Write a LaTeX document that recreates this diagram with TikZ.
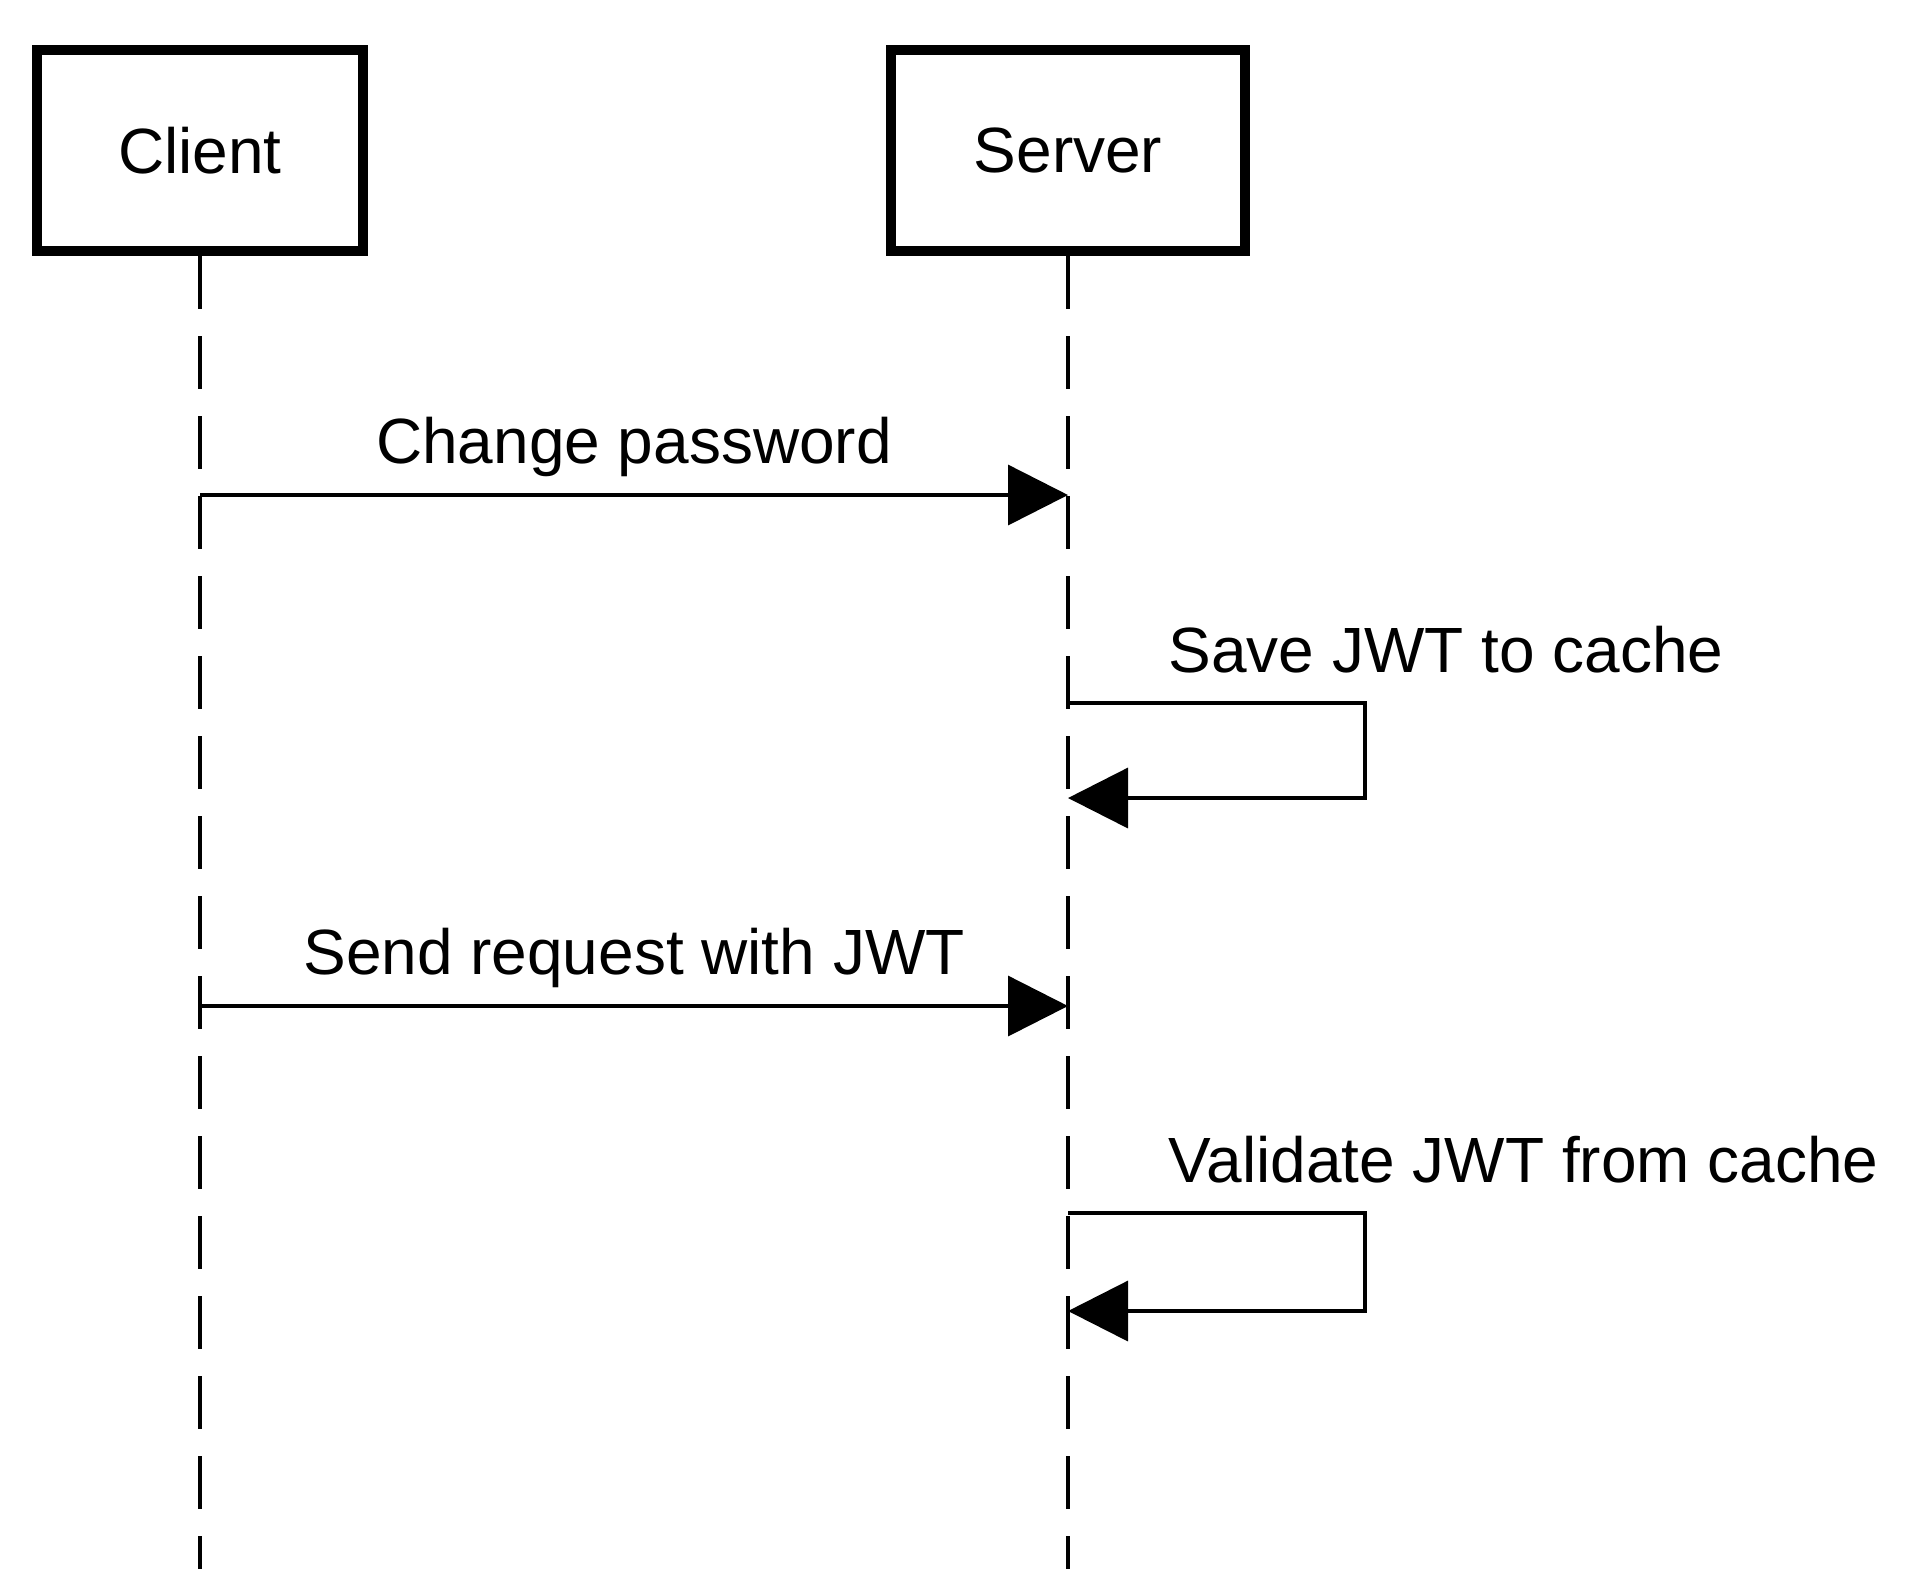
\documentclass[tikz,border=0pt]{standalone}
\usepackage{fontspec}
\setmainfont{Liberation Sans}
\usetikzlibrary{arrows.meta, positioning}

\begin{document}
\begin{tikzpicture}[
      font=\fontsize{18.2}{22}\selectfont,
      actor/.style={draw, line width=2.9pt, minimum height=2.015cm, inner sep=0pt},
      life/.style={line width=1pt, dash pattern=on 0.53cm off 0.27cm},
      msg/.style={line width=1pt, -{Triangle[length=0.6cm, width=0.6cm]}},
      lbl/.style={inner sep=0.08cm, text depth=0.22cm}
    ]
    \useasboundingbox (0,0) rectangle (19.2,-15.69);
    \node[actor, minimum width=3.265cm] (client) at (2.0,-1.505) {Client};
    \node[actor, minimum width=3.535cm] (server) at (10.68,-1.505) {Server};

    \coordinate (cend) at (2.0,-15.69);
    \coordinate (send) at (10.68,-15.69);
    \draw[life] (client.south) -- (cend);
    \draw[life] (server.south) -- (send);

    \coordinate (c1) at (2.0,-4.95);
    \coordinate (s1) at (10.68,-4.95);
    \coordinate (s2) at (10.68,-7.03);
    \coordinate (s3) at (10.68,-7.98);
    \coordinate (c4) at (2.0,-10.06);
    \coordinate (s4) at (10.68,-10.06);
    \coordinate (s5) at (10.68,-12.13);
    \coordinate (s6) at (10.68,-13.11);

    \draw[msg] (c1) -- node[lbl, above] (chg) {Change password} (s1);
    \draw[msg] (s2) -- ++(2.97,0) |- (s3);
    \node[lbl, above right=0cm and 0.92cm of s2] (save) {Save JWT to cache};
    \draw[msg] (c4) -- node[lbl, above] (req) {Send request with JWT} (s4);
    \draw[msg] (s5) -- ++(2.97,0) |- (s6);
    \node[lbl, above right=0cm and 0.92cm of s5] (val) {Validate JWT from cache};
  \end{tikzpicture}
\end{document}
